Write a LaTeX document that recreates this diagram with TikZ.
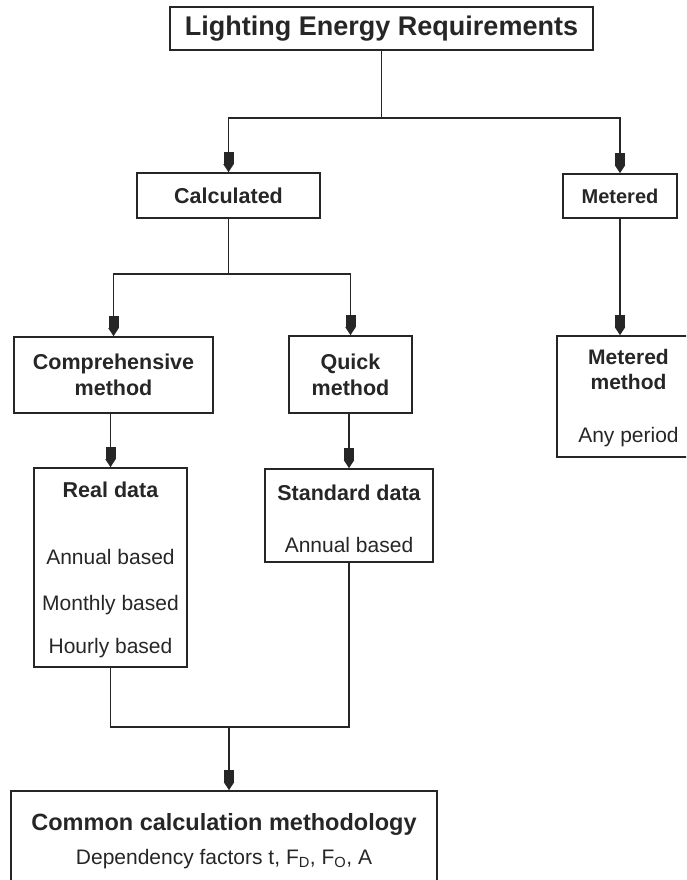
\documentclass[tikz,border=0pt]{standalone}
\usepackage{fontspec}
\setmainfont{Liberation Sans}
\usetikzlibrary{positioning}
\usetikzlibrary{arrows.meta}

\begin{document}
\begin{tikzpicture}
  [ x=1pt, y=-1pt,
    box/.style={draw=black!85, line width=1.6pt, inner sep=0pt,
      text=black!85, align=center},
    hd/.style={font=\fontsize{21.5}{26}\selectfont\bfseries},
    lb/.style={inner sep=0pt, text=black!85, text height=15pt,
      text depth=5pt, font=\fontsize{21}{24}\selectfont},
    conn/.style={draw=black!85, line width=1.6pt},
    arr/.style={conn,
      -{Rectangle[length=12pt,width=10pt]Triangle[length=8pt,width=10pt]}}
  ]
  \useasboundingbox (0,0) rectangle (686,880);
  \clip (0,0) rectangle (686,880);

  % boxes
  \node (titl)  at (381.5, 28.5) [box, minimum width=423pt, minimum height=43pt,
    font=\fontsize{27}{30}\selectfont\bfseries] {Lighting Energy Requirements};
  \node (calc)  at (228.5,195.5) [box, hd, minimum width=183pt, minimum height=45pt] {Calculated};
  \node (meter) at (620.0,196.0) [box, minimum width=114pt, minimum height=44pt,
    font=\fontsize{20}{24}\selectfont\bfseries] {Metered};
  \node (comp)  at (113.5,375.0) [box, hd, minimum width=199pt, minimum height=76pt] {Comprehensive\\method};
  \node (quick) at (350.5,374.5) [box, hd, minimum width=123pt, minimum height=77pt] {Quick\\method};
  \node (metm)  at (628.5,396.5) [box, minimum width=143pt, minimum height=121pt] {};
  \node (real)  at (110.5,567.5) [box, minimum width=153pt, minimum height=199pt] {};
  \node (std)   at (349.0,515.5) [box, minimum width=168pt, minimum height=93pt] {};
  \node (common) at (224.0,845.5) [box, minimum width=426pt, minimum height=109pt] {};

  % texts in the boxes
  \node (metmh) [below=14pt of metm.north, anchor=north, text=black!85, align=center,
    inner sep=0pt, font=\fontsize{21}{25}\selectfont\bfseries] {Metered\\method};
  \node (metma) [below=37pt of metmh, lb] {Any period};

  \node (realh) [below=15pt of real.north, lb, font=\fontsize{21.5}{24}\selectfont\bfseries] {Real data};
  \node (reala) [below=47pt of realh, lb] {Annual based};
  \node (realm) [below=25pt of reala, lb] {Monthly based};
  \node (realo) [below=23pt of realm, lb] {Hourly based};

  \node (stdh) [below=17pt of std.north, lb, font=\fontsize{21.5}{24}\selectfont\bfseries] {Standard data};
  \node (stda) [below=32pt of stdh, lb] {Annual based};

  \node (comh) [below=24pt of common.north, lb, text height=16pt,
    font=\fontsize{23.5}{26}\selectfont\bfseries] {Common calculation methodology};
  \node (comd) [below=14pt of comh, lb]
    {Dependency factors t, F\textsubscript{D}, F\textsubscript{O}, A};

  % junctions
  \coordinate (j1) at (381.5,118);
  \coordinate (j2) at (228.5,274);
  \coordinate (j3) at (229.0,727);

  % connectors
  \draw [conn] (titl.south) -- (j1);
  \draw [arr]  (j1) -| (calc.north);
  \draw [arr]  (j1) -| (meter.north);
  \draw [conn] (calc.south) -- (j2);
  \draw [arr]  (j2) -| (comp.north);
  \draw [arr]  (j2) -| (quick.north);
  \draw [arr]  (meter.south) -- (meter.south |- metm.north);
  \draw [arr]  (comp.south -| real.north) -- (real.north);
  \draw [arr]  (quick.south -| std.north) -- (std.north);
  \draw [conn] (real.south) |- (j3) -| (std.south);
  \draw [arr]  (j3) -- (j3 |- common.north);
\end{tikzpicture}
\end{document}
